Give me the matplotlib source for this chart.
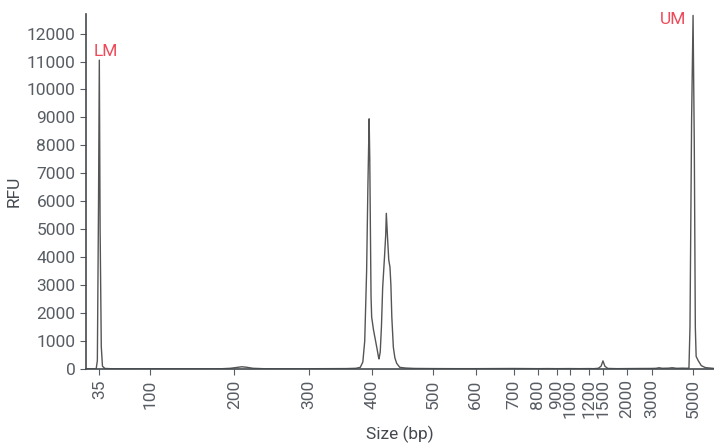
import numpy as np
import matplotlib.pyplot as plt
from matplotlib.ticker import FixedLocator, FixedFormatter

plt.rcParams['font.family'] = ['Roboto', 'DejaVu Sans']

# Escada de tamanhos (bp) e tempo de migracao relativo de cada banda
ladder_bp = [35, 100, 200, 300, 400, 500, 600, 700, 800, 900, 1000, 1200, 1500, 2000, 3000, 5000]
ladder_mig = [100, 151, 235, 309, 372, 433, 476, 514, 538, 557, 570, 589, 603, 627, 652, 693]
tick_labels = [str(v) for v in ladder_bp]

# Eletroferograma (tamanho em bp, RFU)
size_bp = [18, 25, 31, 32.5, 34, 35, 36, 37.5, 39, 42, 50, 70, 100, 130, 160, 185, 195,
           203, 210, 217, 225, 240, 270, 300, 330, 360, 375, 382, 386, 389, 392, 394,
           396, 397, 398, 399, 400, 403, 406, 409, 411, 412, 414, 416, 418, 421, 423,
           424, 426, 428, 430, 431.5, 433, 435.5, 438, 441, 446, 455, 470, 500, 550,
           600, 650, 700, 750, 800, 850, 900, 1000, 1100, 1200, 1300, 1400, 1460, 1500,
           1540, 1600, 1800, 2000, 2500, 3000, 3200, 3340, 3500, 3800, 3980, 4200, 4500,
           4700, 4800, 4850, 4930, 5000, 5060, 5110, 5150, 5250, 5400, 5600, 6020]
rfu = [5, 5, 5, 300, 6000, 11050, 5000, 800, 100, 20, 10, 8, 10, 8, 8, 10, 25,
       55, 80, 60, 25, 10, 8, 10, 12, 15, 25, 60, 250, 1000, 3500, 6500,
       8950, 7500, 5000, 2600, 1860, 1400, 1050, 700, 450, 360, 600, 1500, 2900, 4000, 4800,
       5570, 4700, 3900, 3640, 3000, 1860, 780, 400, 200, 60, 35, 20, 15, 12,
       12, 15, 18, 15, 12, 15, 12, 15, 12, 15, 12, 25, 100, 290,
       100, 20, 12, 15, 18, 20, 25, 45, 25, 30, 45, 25, 30,
       25, 35, 1500, 9000, 12650, 8000, 1500, 450, 300, 120, 50, 20]


def _extrap(x, xp, fp):
    x = np.atleast_1d(np.asarray(x, dtype=float))
    y = np.interp(x, xp, fp)
    lo = x < xp[0]
    hi = x > xp[-1]
    y[lo] = fp[0] + (x[lo] - xp[0]) * (fp[1] - fp[0]) / (xp[1] - xp[0])
    y[hi] = fp[-1] + (x[hi] - xp[-1]) * (fp[-1] - fp[-2]) / (xp[-1] - xp[-2])
    return y


def forward(x):
    return _extrap(x, ladder_bp, ladder_mig)


def inverse(y):
    return _extrap(y, ladder_mig, ladder_bp)


fig = plt.figure(figsize=(7.14, 4.45), dpi=100)
ax = fig.add_axes([0.1204, 0.1708, 0.8796, 0.7977])
ax.set_xscale('function', functions=(forward, inverse))

ax.plot(size_bp, rfu, color='#555555', lw=1.0)

ax.set_xlim(18, 6020)
ax.set_ylim(0, 12700)
ax.xaxis.set_major_locator(FixedLocator(ladder_bp))
ax.xaxis.set_major_formatter(FixedFormatter(tick_labels))
ax.xaxis.set_minor_locator(FixedLocator([]))
ax.set_yticks(range(0, 12001, 1000))

text_col = '#585d64'
for s in ['top', 'right']:
    ax.spines[s].set_visible(False)
for s in ['left', 'bottom']:
    ax.spines[s].set_color('#444a50')
    ax.spines[s].set_linewidth(1.2)
ax.tick_params(axis='both', colors=text_col, labelsize=12.5, length=4, width=0.8)
ax.tick_params(axis='x', labelrotation=90)

ax.set_xlabel('Size (bp)', fontsize=12.5, color='#444a50', labelpad=5)
ax.set_ylabel('RFU', fontsize=12.5, color='#444a50', labelpad=4)

red = '#ee4b5a'
ax.annotate('LM', xy=(35, 11050), xytext=(-4, 1), textcoords='offset points',
            ha='left', va='bottom', color=red, fontsize=12.5)
ax.annotate('UM', xy=(5000, 12650), xytext=(-5, -3), textcoords='offset points',
            ha='right', va='center', color=red, fontsize=12.5)

fig.savefig('out.png', dpi=100)
